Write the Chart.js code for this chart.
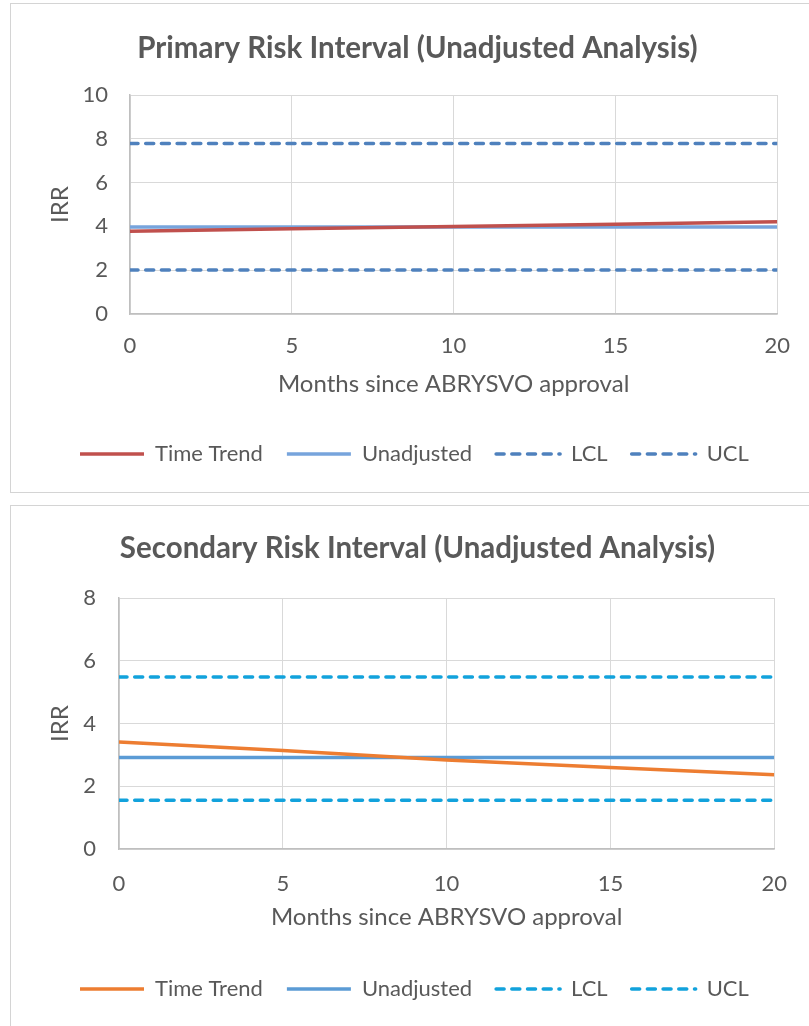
<!DOCTYPE html>
<html><head><meta charset="utf-8">
<script src="https://cdn.jsdelivr.net/npm/chart.js@4.4.1/dist/chart.umd.min.js"></script>
<style>
html,body{margin:0;padding:0;background:#fff;overflow:hidden;width:809px;height:1026px;position:relative;}
.box{position:absolute;border:1px solid #d4d4d4;box-sizing:border-box;}
canvas{position:absolute;left:0;}
</style></head><body>
<div class="box" style="left:10px;top:3px;width:830px;height:490px"></div>
<div class="box" style="left:10px;top:505px;width:830px;height:560px"></div>
<canvas id="c1" width="809" height="493" style="top:0;width:809px;height:493px"></canvas>
<canvas id="c2" width="809" height="523" style="top:505px;width:809px;height:523px"></canvas>
<script>
// ---- data ----
const months = [0, 5, 10, 15, 20];
const seriesNames = ['Time Trend', 'Unadjusted', 'LCL', 'UCL'];
const primaryTitle = 'Primary Risk Interval (Unadjusted Analysis)';
const secondaryTitle = 'Secondary Risk Interval (Unadjusted Analysis)';
const xAxisTitle = 'Months since ABRYSVO approval';
const yAxisTitle = 'IRR';
const primaryTrend = [3.78, 3.89, 3.99, 4.10, 4.21];
const primaryUnadjusted = [3.97, 3.97, 3.97, 3.97, 3.97];
const primaryLCL = [2.01, 2.01, 2.01, 2.01, 2.01];
const primaryUCL = [7.79, 7.79, 7.79, 7.79, 7.79];
const secondaryTrend = [3.41, 3.14, 2.84, 2.60, 2.37];
const secondaryUnadjusted = [2.92, 2.92, 2.92, 2.92, 2.92];
const secondaryLCL = [1.55, 1.55, 1.55, 1.55, 1.55];
const secondaryUCL = [5.48, 5.48, 5.48, 5.48, 5.48];
const primaryYMax = 10, secondaryYMax = 8, yStep = 2, xStep = 5;

// ---- styling ----
const FONT = 'Lato, "Open Sans", sans-serif';
const TEXT = '#595959';
Chart.defaults.font.family = FONT;
Chart.defaults.color = TEXT;

function pts(vals) { return months.map((m, i) => ({x: m, y: vals[i]})); }

function ds(label, vals, color, dashed) {
  return {
    label, data: pts(vals), borderColor: color, backgroundColor: color,
    borderWidth: 3.5, pointRadius: 0, tension: 0,
    borderDash: dashed ? [8, 7.7] : [], borderCapStyle: dashed ? 'round' : 'butt'
  };
}

function legendLabels(chart) {
  return Chart.defaults.plugins.legend.labels.generateLabels(chart).map(item => {
    const d = chart.data.datasets[item.datasetIndex];
    return Object.assign({}, item, {
      lineDash: d.borderDash, lineWidth: d.borderWidth, lineCap: d.borderCapStyle,
      strokeStyle: d.borderColor, fillStyle: d.borderColor
    });
  });
}

function makeChart(id, title, series, colors, yMax, L) {
  return new Chart(document.getElementById(id), {
    type: 'line',
    data: {
      datasets: [
        ds(seriesNames[0], series[0], colors[0], false),
        ds(seriesNames[1], series[1], colors[1], false),
        ds(seriesNames[2], series[2], colors[2], true),
        ds(seriesNames[3], series[3], colors[3], true)
      ]
    },
    options: {
      responsive: false, animation: false, devicePixelRatio: 1,
      layout: {padding: {left: 56, right: 30, top: 0, bottom: 18}},
      plugins: {
        title: {display: true, text: title, color: TEXT,
          font: {size: 29.5, weight: 'bold', family: FONT, lineHeight: 1.2},
          padding: {top: L.titleTop, bottom: L.titleBottom}},
        legend: {position: 'bottom', align: 'start',
          labels: {usePointStyle: true, pointStyle: 'line', pointStyleWidth: 64,
            padding: 24, color: TEXT, font: {size: 22, family: FONT},
            generateLabels: legendLabels}},
        tooltip: {enabled: false}
      },
      scales: {
        x: {type: 'linear', min: 0, max: 20,
          ticks: {stepSize: xStep, padding: L.xTickPad, font: {size: 22}, color: TEXT},
          grid: {color: '#d9d9d9', drawTicks: false},
          border: {color: '#bfbfbf', width: 1.5},
          title: {display: true, text: xAxisTitle, color: TEXT, font: {size: 24, lineHeight: 1.2},
            padding: {top: 0, bottom: L.xTitlePad}},
          afterFit: s => { s.height = L.xHeight; }
        },
        y: {min: 0, max: yMax,
          ticks: {stepSize: yStep, padding: L.yTickPad, font: {size: 22}, color: TEXT},
          grid: {color: '#d9d9d9', drawTicks: false},
          border: {color: '#bfbfbf', width: 1.5},
          title: {display: true, text: yAxisTitle, color: TEXT, font: {size: 24, lineHeight: 0.35},
            padding: {top: 0, bottom: 0}},
          afterFit: s => { s.width = L.yWidth; }
        }
      }
    }
  });
}

makeChart('c1', primaryTitle,
  [primaryTrend, primaryUnadjusted, primaryLCL, primaryUCL],
  ['#C0504D', '#77A4DC', '#4F81BD', '#4F81BD'], primaryYMax,
  {titleTop: 30.3, titleBottom: 29.3, xTickPad: 19, xTitlePad: 20.6, xHeight: 105, yTickPad: 22, yWidth: 74});

makeChart('c2', secondaryTitle,
  [secondaryTrend, secondaryUnadjusted, secondaryLCL, secondaryUCL],
  ['#ED7D31', '#5B9BD5', '#12A2DC', '#12A2DC'], secondaryYMax,
  {titleTop: 25.3, titleBottom: 32.3, xTickPad: 22, xTitlePad: 22.6, xHeight: 105, yTickPad: 23, yWidth: 63});
</script>
</body></html>
